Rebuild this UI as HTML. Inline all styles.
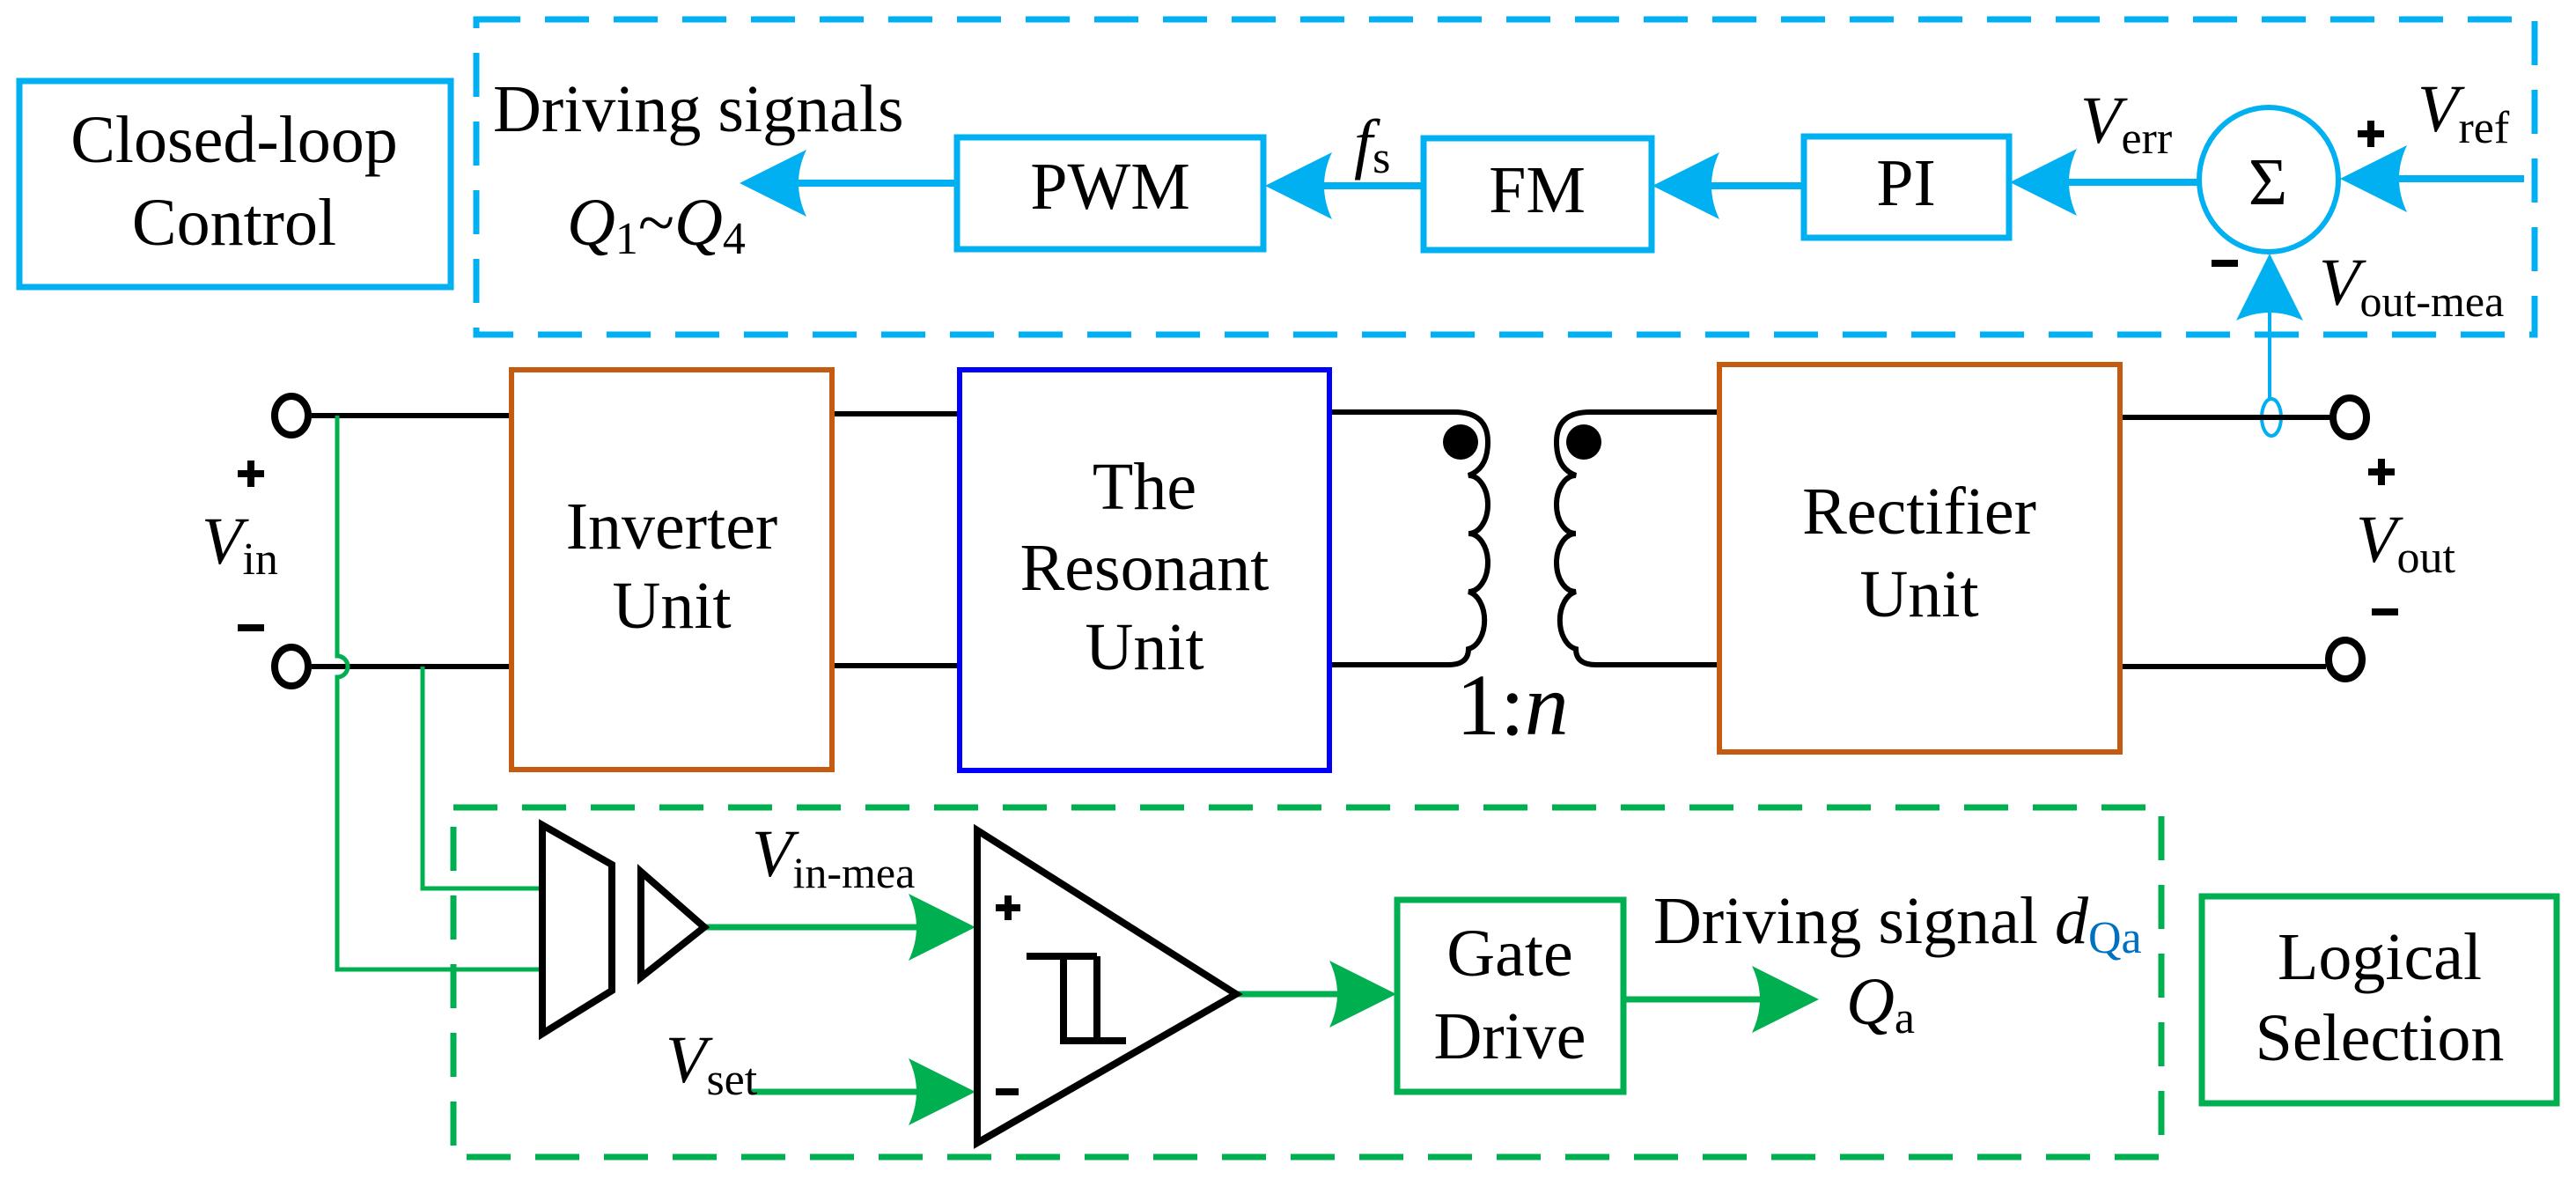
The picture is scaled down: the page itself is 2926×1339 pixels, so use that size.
<!DOCTYPE html>
<html><head><meta charset="utf-8"><style>
html,body{margin:0;padding:0;background:#fff;}
svg{display:block;}
svg text, svg tspan{font-family:"Liberation Serif","Times New Roman","DejaVu Serif",serif;}
</style></head><body>
<svg width="2926" height="1339" viewBox="0 0 2926 1339" xmlns="http://www.w3.org/2000/svg">
<defs>
<path id="ah" d="M0,0 L-76,-38 Q-58,0 -76,38 Z"/>
</defs>
<g font-size="76" font-family="Liberation Serif, Times New Roman, serif">
<rect x="22" y="92" width="490" height="234" fill="none" stroke="#00b0f0" stroke-width="7"/>
<text x="266" y="184" text-anchor="middle">Closed-loop</text>
<text x="266" y="278" text-anchor="middle">Control</text>
<rect x="541" y="22" width="2338" height="358" fill="none" stroke="#00b0f0" stroke-width="7" stroke-dasharray="50 28"/>

<text x="560" y="149">Driving signals</text>
<text x="644" y="278"><tspan font-style="italic">Q</tspan><tspan font-size="52" dy="10">1</tspan><tspan dy="-10">~</tspan><tspan font-style="italic">Q</tspan><tspan font-size="52" dy="10">4</tspan></text>

<g stroke="#00b0f0" stroke-width="8" fill="none">
<line x1="900" y1="208" x2="1087" y2="208"/>
<line x1="1490" y1="211" x2="1617" y2="211"/>
<line x1="1930" y1="211" x2="2049" y2="211"/>
<line x1="2340" y1="207" x2="2497" y2="207"/>
<line x1="2715" y1="203" x2="2867" y2="203"/>
<line x1="2578" y1="340" x2="2578" y2="453" stroke-width="4"/>
<rect x="1087" y="156" width="348" height="127" stroke-width="7"/>
<rect x="1617" y="157" width="259" height="127" stroke-width="7"/>
<rect x="2049" y="155" width="233" height="115" stroke-width="7"/>
<ellipse cx="2577" cy="204" rx="79" ry="82" stroke-width="6"/>
<ellipse cx="2580" cy="474" rx="11" ry="21" stroke-width="4"/>
</g>
<g fill="#00b0f0">
<use href="#ah" transform="translate(840,208) rotate(180)"/>
<use href="#ah" transform="translate(1437,211) rotate(180)"/>
<use href="#ah" transform="translate(1877,211) rotate(180)"/>
<use href="#ah" transform="translate(2283,207) rotate(180)"/>
<use href="#ah" transform="translate(2658,203) rotate(180)"/>
<use href="#ah" transform="translate(2578,288) rotate(-90)"/>
</g>
<text x="1261" y="237" text-anchor="middle">PWM</text>
<text x="1746" y="241" text-anchor="middle">FM</text>
<text x="2165" y="233" text-anchor="middle">PI</text>
<text x="2576" y="232" text-anchor="middle">Σ</text>
<text x="1538" y="188"><tspan font-style="italic">f</tspan><tspan font-size="52" dy="8">s</tspan></text>
<text x="2363" y="162"><tspan font-style="italic">V</tspan><tspan font-size="52" dy="12">err</tspan></text>
<text x="2746" y="149"><tspan font-style="italic">V</tspan><tspan font-size="52" dy="13">ref</tspan></text>
<text x="2634" y="346"><tspan font-style="italic">V</tspan><tspan font-size="50" dy="13">out-mea</tspan></text>
<rect x="2678" y="148" width="30" height="8"/><rect x="2689" y="137" width="8" height="30"/>
<rect x="2512" y="295" width="30" height="8"/>

<g stroke="#000" stroke-width="6" fill="none">
<line x1="354" y1="472" x2="581" y2="472"/>
<line x1="354" y1="757" x2="581" y2="757"/>
<line x1="945" y1="470" x2="1090" y2="470"/>
<line x1="945" y1="756" x2="1090" y2="756"/>
<line x1="2408" y1="474" x2="2647" y2="474"/>
<line x1="2408" y1="757" x2="2642" y2="757"/>
<path d="M1510,468 L1652,468 Q1690,468 1690,502 Q1690,532 1668,540 A22 33 0 0 1 1668 606 A22 33 0 0 1 1668 672 A22 33 0 0 1 1668 737 Q1668 755 1645 755 L1510 755"/>
<path d="M1953,468 L1806,468 Q1768,468 1768,502 Q1768,532 1790,540 A22 33 0 0 0 1790 606 A22 33 0 0 0 1790 672 A22 33 0 0 0 1790 737 Q1790 755 1813 755 L1953 755"/>
</g>
<g stroke="#000" stroke-width="8" fill="#fff">
<ellipse cx="331" cy="472" rx="19" ry="22"/>
<ellipse cx="331" cy="757" rx="19" ry="22"/>
<ellipse cx="2669" cy="474" rx="19" ry="22"/>
<ellipse cx="2664" cy="749" rx="19" ry="22"/>
</g>
<circle cx="1659" cy="502" r="20"/>
<circle cx="1799" cy="502" r="20"/>
<rect x="581" y="420" width="364" height="454" fill="none" stroke="#c55a11" stroke-width="6"/>
<rect x="1090" y="420" width="420" height="455" fill="none" stroke="#0000ff" stroke-width="6"/>
<rect x="1953" y="414" width="455" height="440" fill="none" stroke="#c55a11" stroke-width="6"/>
<text x="763" y="623" text-anchor="middle">Inverter</text>
<text x="763" y="713" text-anchor="middle">Unit</text>
<text x="1300" y="578" text-anchor="middle">The</text>
<text x="1300" y="670" text-anchor="middle">Resonant</text>
<text x="1300" y="760" text-anchor="middle">Unit</text>
<text x="2180" y="606" text-anchor="middle">Rectifier</text>
<text x="2180" y="700" text-anchor="middle">Unit</text>
<text x="1654" y="834" font-size="100">1:<tspan font-style="italic">n</tspan></text>
<text x="229" y="640"><tspan font-style="italic">V</tspan><tspan font-size="52" dy="12">in</tspan></text>
<text x="2676" y="638"><tspan font-style="italic">V</tspan><tspan font-size="52" dy="12">out</tspan></text>
<rect x="270" y="534" width="30" height="8"/><rect x="281" y="523" width="8" height="30"/>
<rect x="270" y="709" width="30" height="8"/>
<rect x="2690" y="532" width="30" height="8"/><rect x="2701" y="521" width="8" height="30"/>
<rect x="2694" y="691" width="30" height="8"/>

<rect x="515" y="917" width="1940" height="397" fill="none" stroke="#00b050" stroke-width="7" stroke-dasharray="50 28"/>
<g stroke="#00b050" stroke-width="5" fill="none">
<path d="M383,472 L383,745 A12 12 0 0 1 383 769 L383,1101 L616,1101"/>
<path d="M480,757 L480,1009 L616,1009"/>
<line x1="800" y1="1053" x2="1050" y2="1053" stroke-width="7"/>
<line x1="854" y1="1240" x2="1050" y2="1240" stroke-width="7"/>
<line x1="1404" y1="1129" x2="1530" y2="1129" stroke-width="7"/>
<line x1="1844" y1="1135" x2="2010" y2="1135" stroke-width="7"/>
<rect x="1587" y="1022" width="257" height="218" stroke-width="7"/>
<rect x="2501" y="1018" width="403" height="235" stroke-width="7"/>
</g>
<g fill="#00b050">
<use href="#ah" transform="translate(1108,1053)"/>
<use href="#ah" transform="translate(1108,1240)"/>
<use href="#ah" transform="translate(1586,1129)"/>
<use href="#ah" transform="translate(2066,1135)"/>
</g>
<g stroke="#000" stroke-width="8" fill="none">
<path d="M616,937 L695,982 L695,1125 L616,1174 Z"/>
<path d="M728,990 L800,1053 L728,1110 Z"/>
<path d="M1110,943 L1404,1129 L1110,1298 Z"/>
<path d="M1166,1086 L1246,1086 M1208,1086 L1208,1182 M1246,1086 L1246,1182 M1204,1182 L1279,1182"/>
</g>
<rect x="1131" y="1027" width="28" height="8"/><rect x="1141" y="1017" width="8" height="28"/>
<rect x="1131" y="1236" width="26" height="8"/>
<text x="854" y="995"><tspan font-style="italic">V</tspan><tspan font-size="50" dy="13">in-mea</tspan></text>
<text x="756" y="1229"><tspan font-style="italic">V</tspan><tspan font-size="52" dy="14">set</tspan></text>
<text x="1715" y="1108" text-anchor="middle">Gate</text>
<text x="1715" y="1202" text-anchor="middle">Drive</text>
<text x="1878" y="1071">Driving signal <tspan font-style="italic">d</tspan><tspan font-size="52" dy="11" fill="#0070c0">Qa</tspan></text>
<text x="2097" y="1163"><tspan font-style="italic">Q</tspan><tspan font-size="52" dy="10">a</tspan></text>
<text x="2703" y="1112" text-anchor="middle">Logical</text>
<text x="2703" y="1204" text-anchor="middle">Selection</text>
</g>
</svg>
</body></html>
